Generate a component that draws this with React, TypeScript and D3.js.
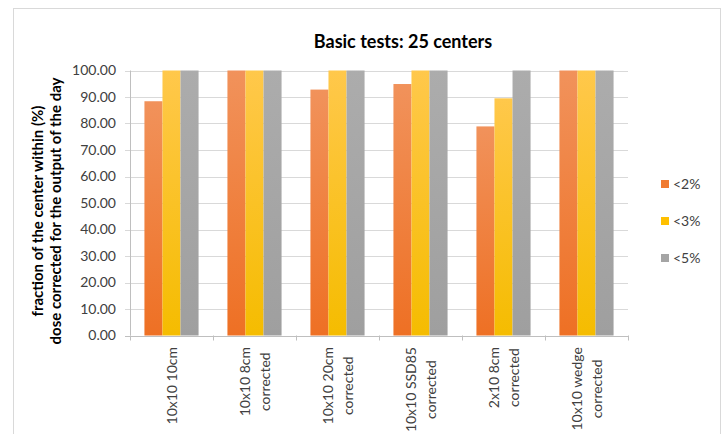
import React from "react";
import * as d3 from "d3";

const categories: string[][] = [
  ["10x10 10cm"],
  ["10x10 8cm", "corrected"],
  ["10x10 20cm", "corrected"],
  ["10x10 SSD85", "corrected"],
  ["2x10 8cm", "corrected"],
  ["10x10 wedge", "corrected"],
];
const seriesNames = ["<2%", "<3%", "<5%"];
const within2 = [88.4, 100, 92.8, 94.9, 78.9, 100];
const within3 = [100, 100, 100, 100, 89.5, 100];
const within5 = [100, 100, 100, 100, 100, 100];
const yTicks = [0, 10, 20, 30, 40, 50, 60, 70, 80, 90, 100];
const title = "Basic tests: 25 centers";
const yTitle = ["fraction of the center within (%)", "dose corrected for the output of the day"];

const FONT = "Lato, Carlito, 'Liberation Sans', sans-serif";

const W = 722;
const H = 434;
const plot = { left: 130, right: 628, top: 70.5, bottom: 335.5 };

const gradients = [
  { id: "g0", top: "#F1925B", bottom: "#EE7024", legend: "#F07A30" },
  { id: "g1", top: "#FFC84B", bottom: "#F5BC00", legend: "#FFC000" },
  { id: "g2", top: "#ACACAC", bottom: "#9F9F9F", legend: "#A5A5A5" },
];

function measure(text: string, font: string): number {
  const c = document.createElement("canvas").getContext("2d");
  if (!c) return text.length * 7;
  c.font = font;
  return c.measureText(text).width;
}

export default function App() {
  const seriesData = [within2, within3, within5];
  const x0 = d3
    .scaleBand<number>()
    .domain(d3.range(categories.length))
    .range([plot.left, plot.right])
    .paddingInner(0)
    .paddingOuter(0);
  const x1 = d3
    .scaleBand<number>()
    .domain(d3.range(seriesNames.length))
    .range([0, x0.bandwidth()])
    .paddingInner(0)
    .paddingOuter(0.8);
  const y = d3.scaleLinear().domain([0, 100]).range([plot.bottom, plot.top]);

  const catFontSize = 14;
  const catFont = `${catFontSize}px Lato`;
  const labelTop = 347;
  const lineStep = 20;

  const boundaries = d3.range(categories.length + 1).map((i) =>
    i < categories.length ? (x0(i) as number) : plot.right
  );

  return (
    <svg
      width={W}
      height={H}
      style={{ position: "absolute", left: 0, top: 0, background: "#fff" }}
      fontFamily={FONT}
    >
      <defs>
        {gradients.map((g) => (
          <linearGradient key={g.id} id={g.id} x1="0" y1="0" x2="0" y2="1">
            <stop offset="0%" stopColor={g.top} />
            <stop offset="100%" stopColor={g.bottom} />
          </linearGradient>
        ))}
      </defs>
      <rect x={0} y={0} width={W} height={H} fill="#fff" />
      <rect x={13.5} y={8.5} width={707} height={440} fill="none" stroke="#D9D9D9" strokeWidth={1} />

      <text x={403} y={48} textAnchor="middle" fontSize={18} fontWeight="bold" fill="#000">
        {title}
      </text>

      {/* gridlines */}
      {yTicks.map((t) => (
        <line
          key={"g" + t}
          x1={plot.left - 5}
          x2={plot.right}
          y1={Math.round(y(t)) + 0.5}
          y2={Math.round(y(t)) + 0.5}
          stroke={t === 0 ? "#BFBFBF" : "#D9D9D9"}
          strokeWidth={1}
        />
      ))}
      <line
        x1={plot.left + 0.5}
        x2={plot.left + 0.5}
        y1={plot.top}
        y2={plot.bottom}
        stroke="#BFBFBF"
      />
      {yTicks.map((t) => (
        <text
          key={"yt" + t}
          x={116}
          y={y(t)}
          dy="0.35em"
          textAnchor="end"
          fontSize={14}
          fill="#404040"
        >
          {t.toFixed(2)}
        </text>
      ))}

      {/* bars */}
      {categories.map((_, ci) =>
        seriesData.map((vals, si) => {
          const xp = (x0(ci) as number) + (x1(si) as number);
          return (
            <rect
              key={`b${ci}-${si}`}
              x={xp}
              y={y(vals[ci])}
              width={x1.bandwidth()}
              height={y(0) - y(vals[ci])}
              fill={`url(#${gradients[si].id})`}
            />
          );
        })
      )}

      {/* x ticks */}
      {boundaries.map((b, i) => (
        <line
          key={"xt" + i}
          x1={Math.round(b) + 0.5}
          x2={Math.round(b) + 0.5}
          y1={plot.bottom}
          y2={plot.bottom + 5}
          stroke="#BFBFBF"
        />
      ))}

      {/* category labels */}
      {categories.map((lines, ci) => {
        const cx = (x0(ci) as number) + x0.bandwidth() / 2;
        const maxLen = d3.max(lines, (l) => measure(l, catFont)) || 0;
        const n = lines.length;
        return lines.map((l, li) => {
          const bx = cx + 5.5 + (li - (n - 1) / 2) * lineStep;
          return (
            <text
              key={`c${ci}-${li}`}
              transform={`translate(${bx},${labelTop + maxLen / 2}) rotate(-90)`}
              textAnchor="middle"
              fontSize={catFontSize}
              fill="#404040"
            >
              {l}
            </text>
          );
        });
      })}

      {/* y axis title */}
      {yTitle.map((t, i) => (
        <text
          key={"yti" + i}
          transform={`translate(${43 + i * 17.5},${211}) rotate(-90)`}
          textAnchor="middle"
          fontSize={15}
          fontWeight="bold"
          fill="#000"
        >
          {t}
        </text>
      ))}

      {/* legend */}
      {seriesNames.map((s, i) => {
        const cy = 184 + i * 37;
        return (
          <g key={"lg" + i}>
            <rect x={661} y={cy - 4} width={8} height={8} fill={gradients[i].legend} />
            <text x={673} y={cy} dy="0.35em" fontSize={14} fill="#404040">
              {s}
            </text>
          </g>
        );
      })}
    </svg>
  );
}
